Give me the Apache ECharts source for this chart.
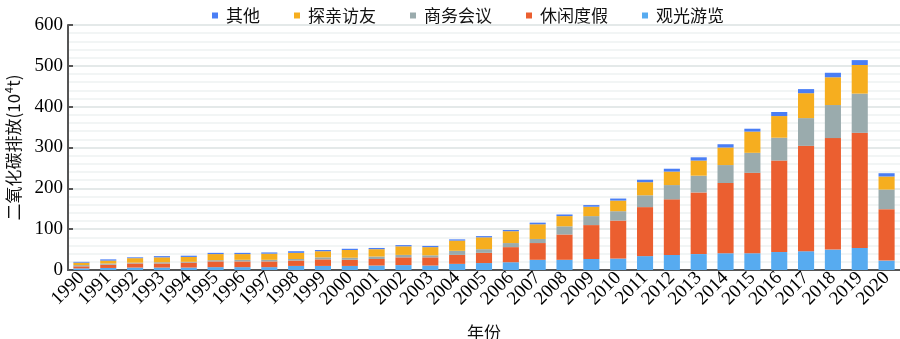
<!DOCTYPE html>
<html>
<head>
<meta charset="utf-8">
<script src="https://cdn.jsdelivr.net/npm/echarts@6/dist/echarts.min.js"></script>
<style>html,body{margin:0;padding:0;background:#fff;}#c{width:900px;height:339px;}</style>
</head>
<body>
<div id="c"></div>
<script>
var years = ['1990','1991','1992','1993','1994','1995','1996','1997','1998','1999','2000','2001','2002','2003','2004','2005','2006','2007','2008','2009','2010','2011','2012','2013','2014','2015','2016','2017','2018','2019','2020'];
var sightseeing = [4,5,6,6,6,7,7,7,10,10,10,11,12,11,15,17,19,25,25,27,28,34,37,39,41,41,44,46,50,54,23];
var leisure     = [5,8,10,10,12,14,14,14,13,16,15,16,19,20,22,25,37,41,62,83,93,120,136,151,172,197,224,258,273,282,126];
var business    = [3,3,2,3,2,3,4,4,4,5,5,6,6,5,10,9,10,10,20,22,23,29,35,41,44,49,56,68,81,96,48];
var visiting    = [6,7,11,12,12,15,14,15,15,15,19,18,21,20,25,29,29,36,25,23,26,32,33,37,43,52,53,61,68,70,32];
var others      = [2,3,2,3,3,3,3,3,4,3,3,3,3,3,3,3,3,4,4,4,5,6,7,8,8,7,10,10,11,12,8];
var legendOrder = ['其他','探亲访友','商务会议','休闲度假','观光游览'];

var serif = 'Liberation Serif';
var cjk = 'Noto Sans CJK SC';
function bar(name, data, color) {
  return { name: name, type: 'bar', stack: 'total', data: data, barCategoryGap: '40%',
           itemStyle: { color: color }, emphasis: { disabled: true } };
}
var chart = echarts.init(document.getElementById('c'));
chart.setOption({
  animation: false,
  grid: { left: 68, right: 0, top: 25, bottom: 69, containLabel: false, outerBoundsMode: 'none' },
  legend: {
    data: legendOrder, top: 2, left: 207, icon: 'rect', itemWidth: 6, itemHeight: 6, itemGap: 34,
    textStyle: { fontFamily: cjk, fontSize: 17, color: '#111', padding: [0, 0, 0, 3] }
  },
  xAxis: {
    type: 'category', data: years, boundaryGap: true,
    axisLine: { lineStyle: { color: '#555', width: 2 } },
    axisTick: { show: false },
    axisLabel: { rotate: 45, fontFamily: serif, fontSize: 19, color: '#000', margin: 5, interval: 0 },
    name: '年份', nameLocation: 'middle', nameGap: 54,
    nameTextStyle: { fontFamily: cjk, fontSize: 17, color: '#111' }
  },
  yAxis: {
    type: 'value', min: 0, max: 600, interval: 100,
    axisLine: { show: true, lineStyle: { color: '#555', width: 2 } },
    axisTick: { show: true, inside: true, length: 5, lineStyle: { color: '#555', width: 2 } },
    axisLabel: { fontFamily: serif, fontSize: 19, color: '#000', margin: 5 },
    splitLine: { lineStyle: { color: '#dbe2e2', width: 1.5 } },
    minorTick: { show: false, splitNumber: 5 },
    minorSplitLine: { show: true, lineStyle: { color: '#eef2f2', width: 1.5 } },
    name: '二氧化碳排放(10⁴t)', nameLocation: 'middle', nameGap: 46,
    nameTextStyle: { fontFamily: cjk, fontSize: 17, color: '#111' }
  },
  series: [
    bar('观光游览', sightseeing, '#57abf0'),
    bar('休闲度假', leisure, '#eb5f30'),
    bar('商务会议', business, '#9aabad'),
    bar('探亲访友', visiting, '#f6ae1f'),
    bar('其他', others, '#4a7ef5')
  ]
});
</script>
</body>
</html>
